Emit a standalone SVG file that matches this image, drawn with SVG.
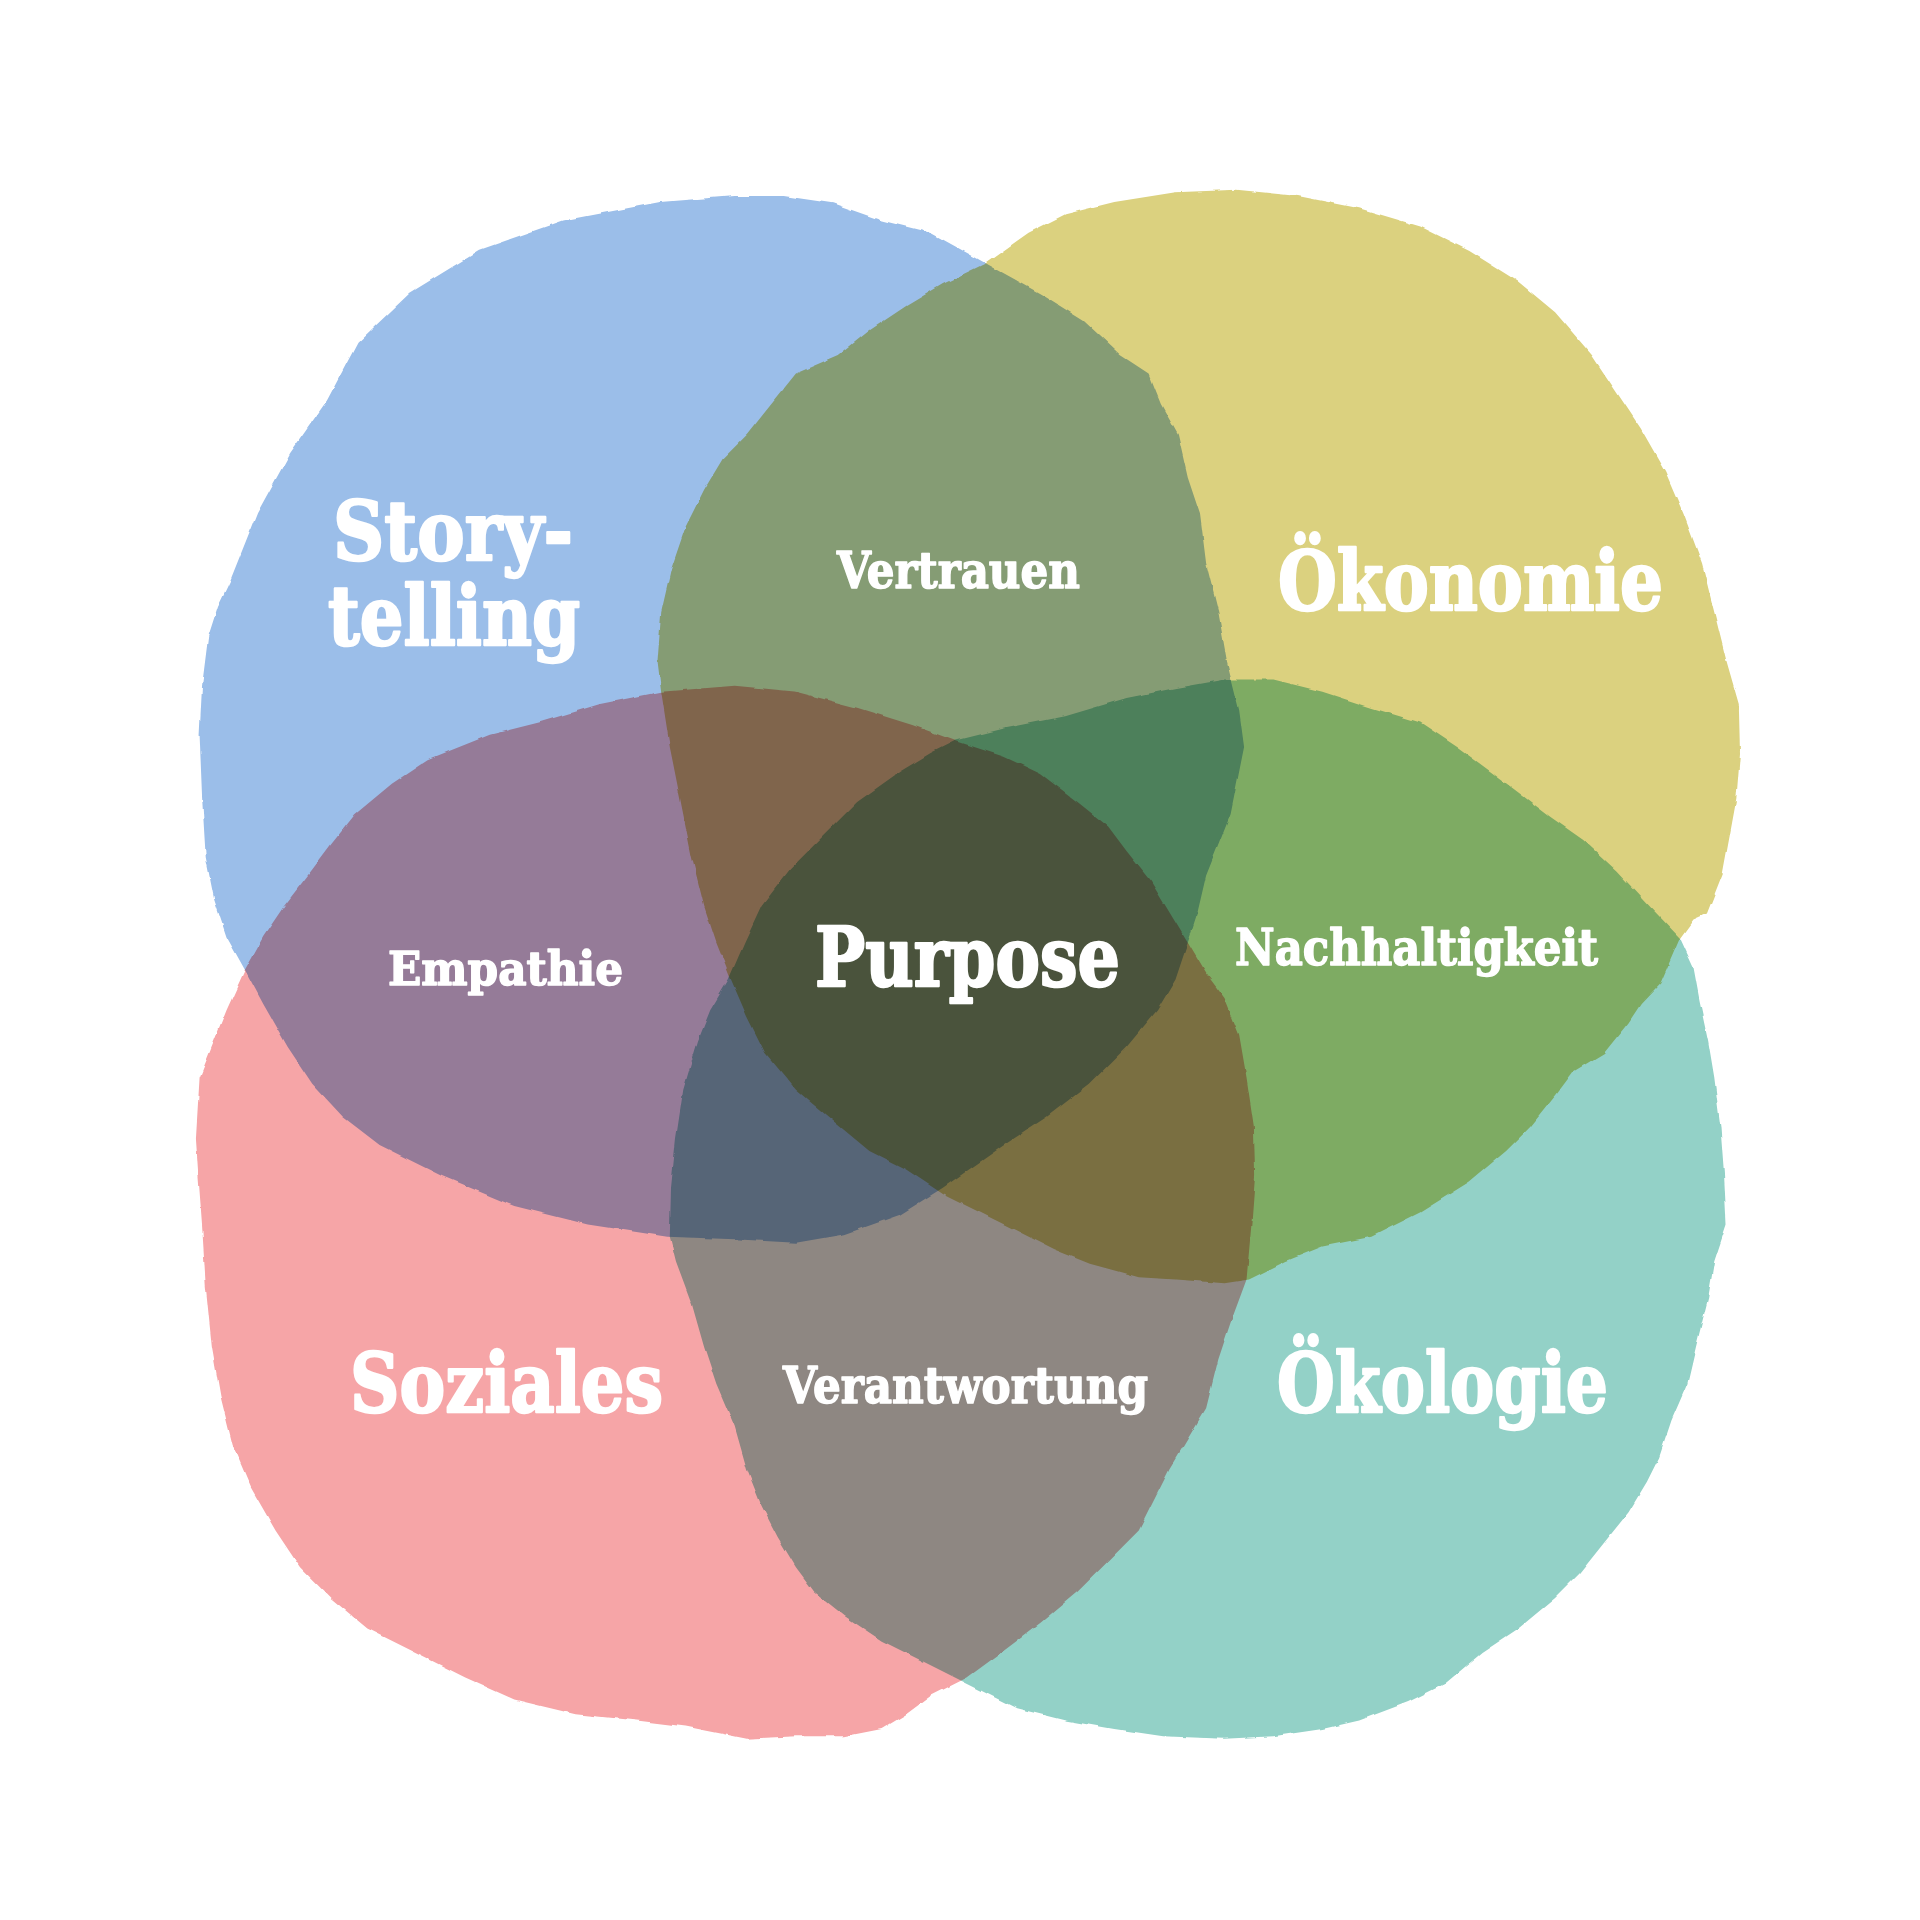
<svg xmlns="http://www.w3.org/2000/svg" width="1920" height="1920" viewBox="0 0 1920 1920">
<defs>
<filter id="rough" x="-5%" y="-5%" width="110%" height="110%">
<feTurbulence type="fractalNoise" baseFrequency="0.07" numOctaves="2" seed="4" result="n"/>
<feDisplacementMap in="SourceGraphic" in2="n" scale="3" xChannelSelector="R" yChannelSelector="G"/>
</filter>
<style>
.blob{mix-blend-mode:multiply;filter:url(#rough);}
.blue{fill:#9BBEE9;}
.yellow{fill:#DBD17F;}
.pink{fill:#F6A5A7;}
.teal{fill:#93D1C7;}
.lbl{font-family:"DejaVu Serif","Liberation Serif",serif;font-weight:bold;fill:#FFFFFF;stroke:#FFFFFF;stroke-linejoin:round;}
.big{font-size:82px;stroke-width:2.5px;}
.small{font-size:50px;stroke-width:1.5px;}
</style>
</defs>
<rect x="0" y="0" width="1920" height="1920" fill="#FFFFFF"/>
<g id="blobs" transform="scale(1.22449)" style="isolation:isolate">
<g id="node-storytelling">
<path class="blob blue" d="M188,474 L210,419 L237,370 L267,327 L292,280 L335,239 L392,204 L460,180 L539,165 L600,160 L640,160 L680,166 L720,180 L760,190 L805,215 L850,240 L885,262 L915,290 L938,305 L948,330 L962,355 L970,390 L980,420 L985,460 L995,500 L1002,540 L1012,580 L1016,610 L1010,640 L1005,665 L995,690 L985,715 L978,745 L970,770 L960,800 L945,825 L920,855 L890,885 L855,912 L820,935 L770,970 L735,992 L690,1008 L650,1015 L600,1012 L545,1010 L480,1000 L420,985 L360,960 L310,935 L280,912 L255,885 L235,855 L215,820 L200,792 L185,765 L175,735 L168,700 L165,650 L163,600 L165,560 L170,520 L178,495 Z"/>
</g>
<g id="node-oekonomie">
<path class="blob yellow" d="M805,215 L840,190 L870,175 L910,165 L960,157 L1010,155 L1060,160 L1110,170 L1160,185 L1200,205 L1240,230 L1270,255 L1300,290 L1320,320 L1340,350 L1360,385 L1375,420 L1390,460 L1400,500 L1410,540 L1420,575 L1421,615 L1418,653 L1407,713 L1394,746 L1383,751 L1372,766 L1356,803 L1340,820 L1330,835 L1310,860 L1285,875 L1270,895 L1250,920 L1230,940 L1200,965 L1160,990 L1120,1010 L1080,1018 L1050,1030 L1020,1045 L1000,1048 L960,1045 L930,1043 L890,1032 L860,1020 L830,1005 L800,990 L770,975 L740,955 L710,940 L680,915 L650,890 L625,860 L610,830 L597,800 L585,770 L575,740 L565,700 L555,650 L547,610 L540,565 L537,540 L540,500 L548,465 L560,430 L575,400 L590,375 L610,355 L630,330 L650,305 L685,290 L710,270 L740,250 L770,232 Z"/>
</g>
<g id="node-soziales">
<path class="blob pink" d="M200,792 L215,765 L232,740 L255,710 L270,690 L290,665 L320,640 L350,620 L400,600 L440,590 L490,575 L540,565 L600,560 L650,565 L700,578 L745,592 L780,605 L820,618 L850,632 L880,655 L905,675 L920,695 L940,720 L955,745 L970,770 L985,795 L1000,815 L1012,845 L1018,880 L1024,920 L1025,960 L1022,1000 L1018,1045 L1005,1080 L995,1110 L985,1150 L970,1175 L955,1200 L940,1230 L930,1250 L905,1275 L880,1300 L850,1325 L820,1348 L790,1370 L760,1385 L740,1400 L720,1412 L690,1418 L650,1418 L610,1420 L560,1410 L520,1405 L470,1400 L420,1388 L380,1370 L340,1350 L300,1330 L270,1305 L245,1280 L225,1250 L205,1215 L190,1180 L180,1140 L173,1100 L168,1050 L165,1000 L162,960 L160,930 L163,880 L175,850 L185,825 Z"/>
</g>
<g id="node-oekologie">
<path class="blob teal" d="M780,605 L820,595 L870,585 L920,570 L960,562 L1000,555 L1040,555 L1080,565 L1120,578 L1160,590 L1190,610 L1220,632 L1266,667 L1293,686 L1320,711 L1348,741 L1372,766 L1383,790 L1388,817 L1395,850 L1400,880 L1405,920 L1408,960 L1410,1000 L1400,1030 L1395,1060 L1385,1100 L1378,1130 L1365,1160 L1355,1190 L1345,1210 L1330,1235 L1310,1260 L1290,1285 L1270,1305 L1240,1330 L1210,1350 L1180,1375 L1150,1390 L1110,1405 L1080,1412 L1040,1418 L1000,1420 L950,1418 L910,1412 L870,1405 L830,1395 L790,1375 L760,1360 L720,1340 L690,1320 L665,1300 L650,1280 L635,1255 L622,1230 L610,1200 L600,1165 L585,1130 L575,1100 L565,1065 L552,1030 L547,1010 L548,970 L552,930 L558,890 L570,850 L580,825 L595,800 L608,770 L622,740 L645,710 L670,685 L700,655 L735,630 L760,615 Z"/>
</g>
</g>
<g id="labels">
<text class="lbl big" x="333" y="560" textLength="240" lengthAdjust="spacingAndGlyphs">Story-</text>
<text class="lbl big" x="328" y="645" textLength="252" lengthAdjust="spacingAndGlyphs">telling</text>
<text class="lbl big" x="1278" y="610" textLength="385" lengthAdjust="spacingAndGlyphs">Ökonomie</text>
<text class="lbl big" x="815" y="986" textLength="305" lengthAdjust="spacingAndGlyphs">Purpose</text>
<text class="lbl big" x="350" y="1412" textLength="313" lengthAdjust="spacingAndGlyphs">Soziales</text>
<text class="lbl big" x="1277" y="1412" textLength="331" lengthAdjust="spacingAndGlyphs">Ökologie</text>
<text class="lbl small" x="837" y="588" textLength="243" lengthAdjust="spacingAndGlyphs">Vertrauen</text>
<text class="lbl small" x="388" y="985" style="font-size:46px" textLength="235" lengthAdjust="spacingAndGlyphs">Empathie</text>
<text class="lbl small" x="1235" y="965" textLength="363" lengthAdjust="spacingAndGlyphs">Nachhaltigkeit</text>
<text class="lbl small" x="783" y="1403" textLength="365" lengthAdjust="spacingAndGlyphs">Verantwortung</text>
</g>
</svg>
